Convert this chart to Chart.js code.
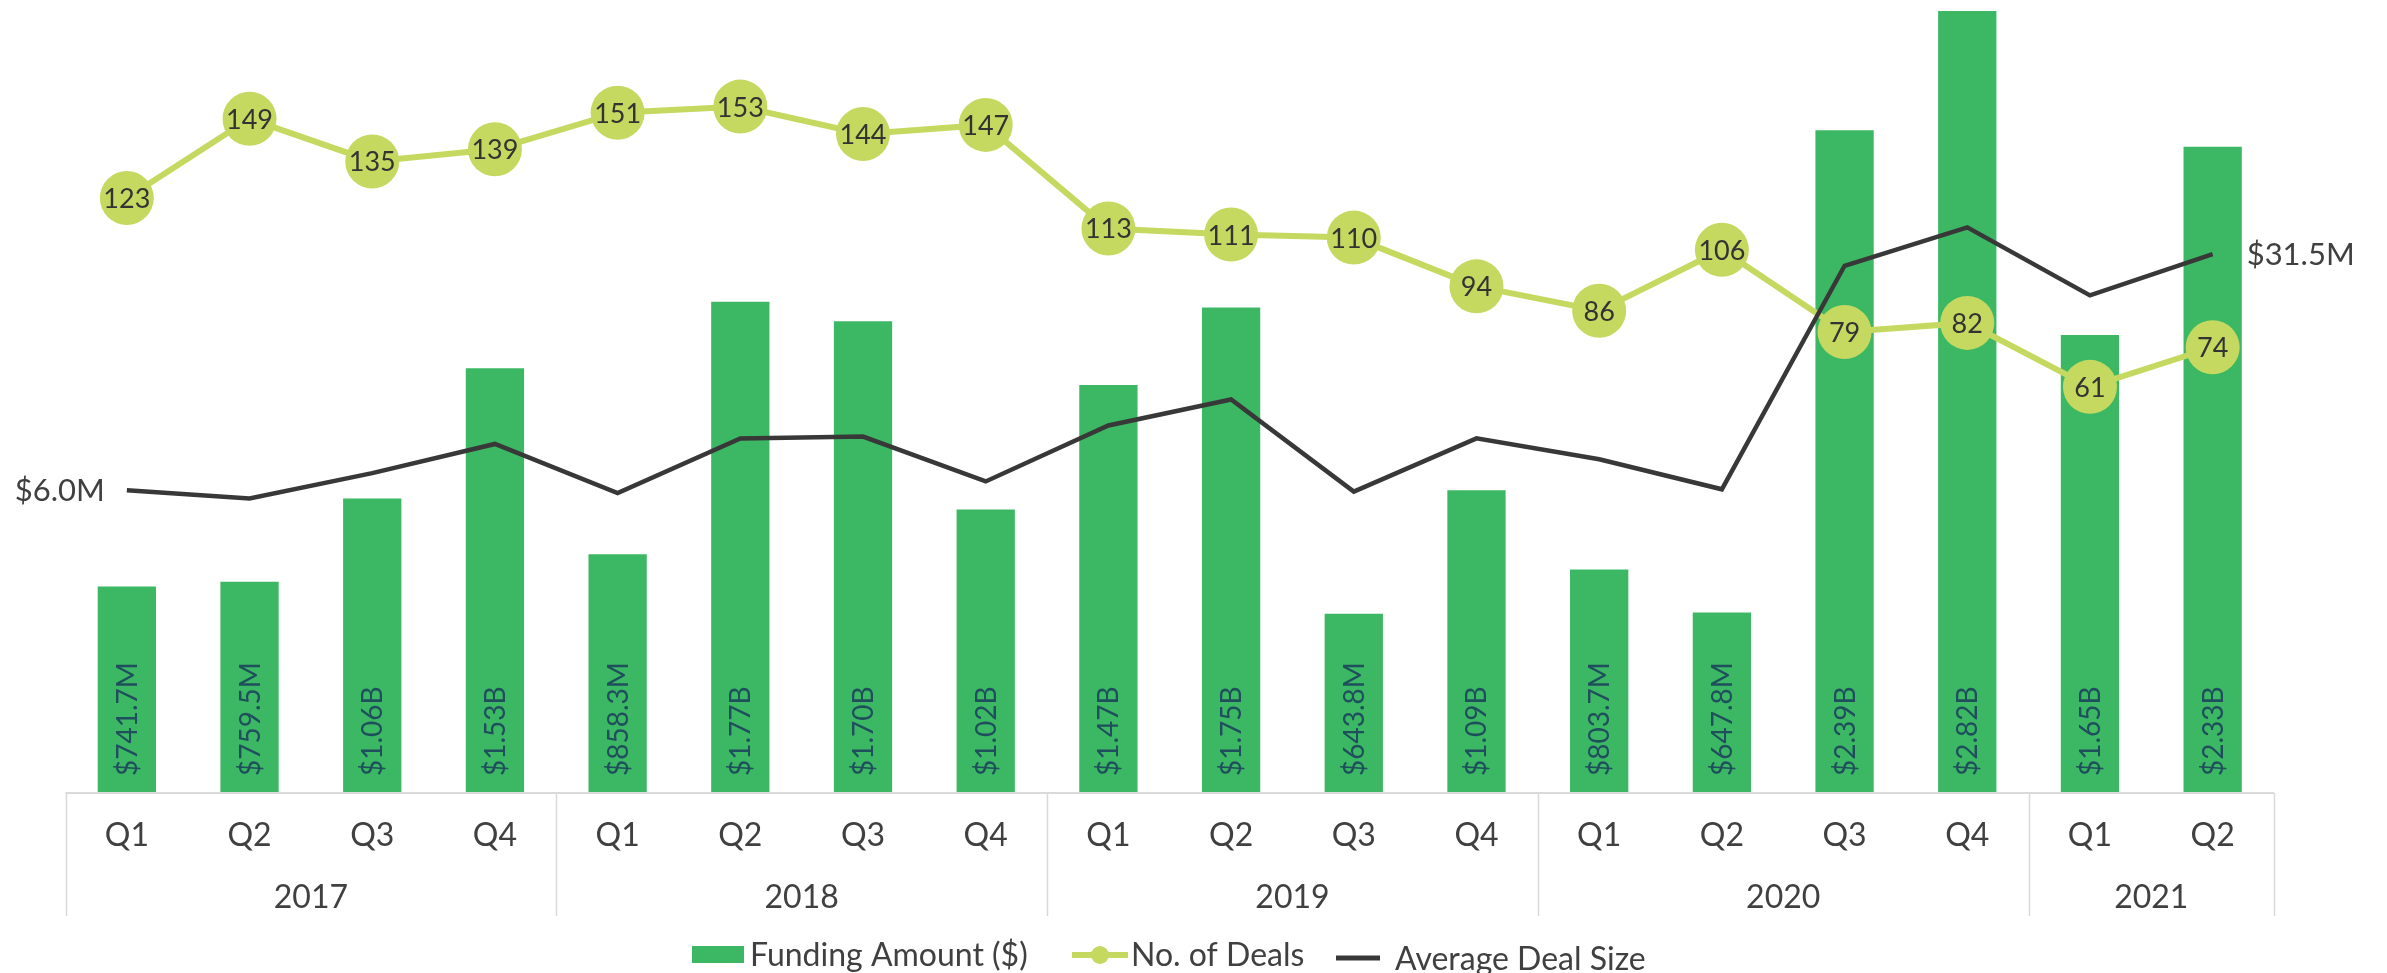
<!DOCTYPE html>
<html>
<head>
<meta charset="utf-8">
<script src="https://cdn.jsdelivr.net/npm/chart.js@4.4.1/dist/chart.umd.min.js"></script>
<style>
  html, body { margin: 0; padding: 0; background: #ffffff; }
  #wrap { width: 2387px; height: 973px; }
  canvas { display: block; }
</style>
</head>
<body>
<div id="wrap"><canvas id="c" width="2387" height="973"></canvas></div>
<script>
// ---- data ----
const quarters = ['Q1','Q2','Q3','Q4','Q1','Q2','Q3','Q4','Q1','Q2','Q3','Q4','Q1','Q2','Q3','Q4','Q1','Q2'];
const years = ['2017','2018','2019','2020','2021'];
const yearQuarterCounts = [4, 4, 4, 4, 2];
const fundingB = [0.7417, 0.7595, 1.06, 1.53, 0.8583, 1.77, 1.70, 1.02, 1.47, 1.75, 0.6438, 1.09, 0.8037, 0.6478, 2.39, 2.82, 1.65, 2.33];
const fundingLabels = ['$741.7M','$759.5M','$1.06B','$1.53B','$858.3M','$1.77B','$1.70B','$1.02B','$1.47B','$1.75B','$643.8M','$1.09B','$803.7M','$647.8M','$2.39B','$2.82B','$1.65B','$2.33B'];
const deals = [123, 149, 135, 139, 151, 153, 144, 147, 113, 111, 110, 94, 86, 106, 79, 82, 61, 74];
const avgDealM = [6.0, 5.1, 7.85, 11.0, 5.7, 11.6, 11.8, 6.95, 13.0, 15.8, 5.85, 11.6, 9.35, 6.1, 30.25, 34.4, 27.05, 31.5];
const avgEndLabels = ['$6.0M', '$31.5M'];
const seriesNames = ['Funding Amount ($)', 'No. of Deals', 'Average Deal Size'];

const labels = quarters.map((q, i) => q + '-' + i);

const C_BAR = '#3cb864';
const C_DEAL = '#c5d961';
const C_AVG = '#383838';
const C_TEXT = '#404040';
const C_BARTEXT = '#1f4e5c';
const C_GRID = '#d9d9d9';
const FONT = 'Lato, "Noto Sans", sans-serif';

const labelPlugin = {
  id: 'customLabels',
  afterDatasetsDraw(chart) {
    const ctx = chart.ctx;
    // bar labels
    const barMeta = chart.getDatasetMeta(0);
    ctx.save();
    ctx.font = '28px ' + FONT;
    ctx.fillStyle = C_BARTEXT;
    ctx.textAlign = 'left';
    ctx.textBaseline = 'alphabetic';
    barMeta.data.forEach((el, i) => {
      ctx.save();
      ctx.translate(el.x + 10, chart.chartArea.bottom - 16);
      ctx.rotate(-Math.PI / 2);
      ctx.fillText(fundingLabels[i], 0, 0);
      ctx.restore();
    });
    ctx.restore();

    // deal labels
    const dealMeta = chart.getDatasetMeta(1);
    ctx.save();
    ctx.font = '27px ' + FONT;
    ctx.fillStyle = '#333333';
    ctx.textAlign = 'center';
    ctx.textBaseline = 'alphabetic';
    dealMeta.data.forEach((el, i) => {
      ctx.fillText(String(deals[i]), el.x, el.y + 10);
    });
    ctx.restore();

    // avg end labels
    const avgMeta = chart.getDatasetMeta(2);
    const first = avgMeta.data[0];
    const last = avgMeta.data[avgMeta.data.length - 1];
    ctx.save();
    ctx.font = '31px ' + FONT;
    ctx.fillStyle = C_TEXT;
    ctx.textBaseline = 'alphabetic';
    ctx.textAlign = 'right';
    ctx.fillText(avgEndLabels[0], first.x - 22, first.y + 11);
    ctx.textAlign = 'left';
    ctx.fillText(avgEndLabels[1], last.x + 34, last.y + 11);
    ctx.restore();
  },
  afterDraw(chart) {
    const ctx = chart.ctx;
    const xs = chart.scales.x;
    const area = chart.chartArea;
    const bottom = area.bottom;
    const step = xs.getPixelForValue(1) - xs.getPixelForValue(0);
    ctx.save();
    // axis line
    ctx.strokeStyle = C_GRID;
    ctx.lineWidth = 2;
    ctx.beginPath();
    ctx.moveTo(area.left, bottom + 1);
    ctx.lineTo(area.right, bottom + 1);
    ctx.stroke();
    // group separators
    ctx.lineWidth = 1.5;
    let idx = 0;
    const seps = [0];
    yearQuarterCounts.forEach(n => { idx += n; seps.push(idx); });
    seps.forEach(s => {
      const x = Math.round(xs.getPixelForValue(0) - step / 2 + s * step) + 0.5;
      ctx.beginPath();
      ctx.moveTo(x, bottom + 1);
      ctx.lineTo(x, bottom + 124);
      ctx.stroke();
    });
    // quarter labels
    ctx.fillStyle = C_TEXT;
    ctx.font = '32px ' + FONT;
    ctx.textAlign = 'center';
    ctx.textBaseline = 'alphabetic';
    quarters.forEach((q, i) => {
      ctx.fillText(q, xs.getPixelForValue(i), bottom + 54);
    });
    // year labels
    idx = 0;
    years.forEach((y, k) => {
      const n = yearQuarterCounts[k];
      const x = (xs.getPixelForValue(idx) + xs.getPixelForValue(idx + n - 1)) / 2;
      ctx.fillText(y, x, bottom + 116);
      idx += n;
    });
    // legend
    const ly = 955;
    ctx.font = '32px ' + FONT;
    ctx.textAlign = 'left';
    ctx.fillStyle = C_BAR;
    ctx.fillRect(692, ly - 9, 52, 17);
    ctx.fillStyle = C_TEXT;
    ctx.fillText(seriesNames[0], 750, ly + 11);
    // deals item
    ctx.strokeStyle = C_DEAL;
    ctx.lineWidth = 6;
    ctx.beginPath();
    ctx.moveTo(1072, ly);
    ctx.lineTo(1128, ly);
    ctx.stroke();
    ctx.fillStyle = C_DEAL;
    ctx.beginPath();
    ctx.arc(1100, ly, 9, 0, Math.PI * 2);
    ctx.fill();
    ctx.fillStyle = C_TEXT;
    ctx.fillText(seriesNames[1], 1131, ly + 11);
    // avg item
    ctx.strokeStyle = C_AVG;
    ctx.lineWidth = 5;
    ctx.beginPath();
    ctx.moveTo(1336, ly + 3);
    ctx.lineTo(1380, ly + 3);
    ctx.stroke();
    ctx.fillText(seriesNames[2], 1395, ly + 15);
    ctx.restore();
  }
};

function build() {
  new Chart(document.getElementById('c'), {
    data: {
      labels: labels,
      datasets: [
        {
          type: 'bar',
          label: seriesNames[0],
          data: fundingB,
          backgroundColor: C_BAR,
          borderWidth: 0,
          yAxisID: 'y',
          categoryPercentage: 1.0,
          barPercentage: 0.475,
          order: 3
        },
        {
          type: 'line',
          label: seriesNames[1],
          data: deals,
          borderColor: C_DEAL,
          backgroundColor: C_DEAL,
          borderWidth: 6,
          pointRadius: 27,
          pointHoverRadius: 27,
          pointBackgroundColor: C_DEAL,
          pointBorderWidth: 0,
          tension: 0,
          yAxisID: 'yDeals',
          clip: false,
          order: 2
        },
        {
          type: 'line',
          label: seriesNames[2],
          data: avgDealM,
          borderColor: C_AVG,
          borderWidth: 4.5,
          pointRadius: 0,
          tension: 0,
          yAxisID: 'yAvg',
          clip: false,
          order: 1
        }
      ]
    },
    options: {
      responsive: false,
      devicePixelRatio: 1,
      animation: false,
      events: [],
      layout: { autoPadding: false, padding: { left: 65.5, right: 113, top: 0, bottom: 181 } },
      plugins: { legend: { display: false }, tooltip: { enabled: false }, title: { display: false } },
      scales: {
        x: { type: 'category', display: false, offset: true, grid: { display: false } },
        y: { display: false, min: 0, max: 2.86 },
        yDeals: { display: false, min: -72, max: 188 },
        yAvg: { display: false, min: -26.6, max: 58.96 }
      }
    },
    plugins: [labelPlugin]
  });
}

if (document.fonts && document.fonts.load) {
  Promise.all([document.fonts.load('28px Lato'), document.fonts.load('32px Lato')])
    .then(build, build);
} else {
  build();
}
</script>
</body>
</html>
